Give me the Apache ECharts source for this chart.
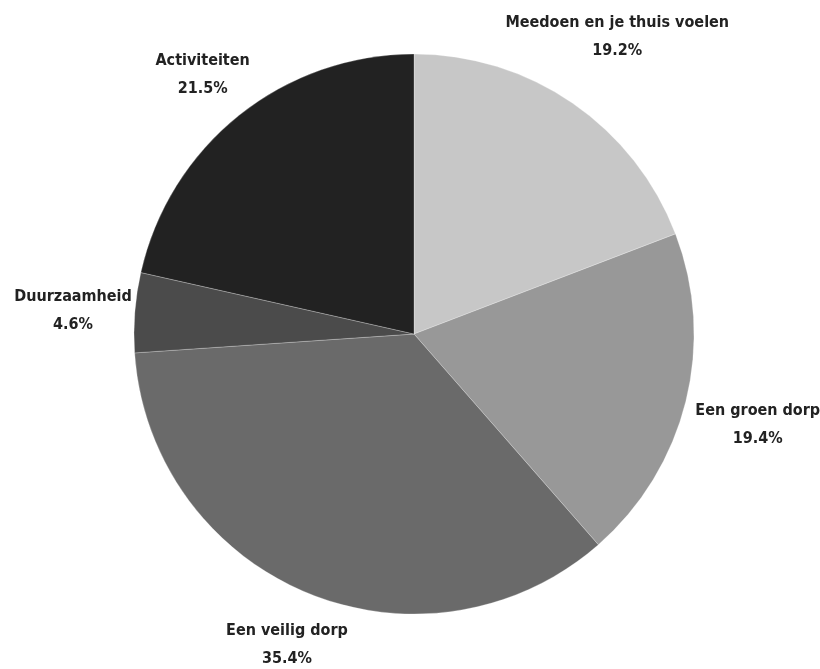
<!DOCTYPE html>
<html><head><meta charset="utf-8">
<script src="https://cdn.jsdelivr.net/npm/echarts@6/dist/echarts.min.js"></script>
<style>html,body{margin:0;padding:0;background:#fff}#c{width:820px;height:669px}</style>
</head><body><div id="c"></div>
<script>
const categories = ['Meedoen en je thuis voelen', 'Een groen dorp', 'Een veilig dorp', 'Duurzaamheid', 'Activiteiten'];
const values = [19.2, 19.4, 35.4, 4.6, 21.5];
const colors = ['#c7c7c7', '#989898', '#6a6a6a', '#4b4b4b', '#222222'];

const chart = echarts.init(document.getElementById('c'));
const data = categories.map((n, i) => ({ name: n, value: values[i], itemStyle: { color: colors[i] } }));
const labelData = categories.map((n, i) => ({ name: n, value: values[i] }));
// small vertical nudges of the label text (style only)
const labelNudgeY = [-10, 7, -11, 4, 13];
const font = '"DejaVu Sans Condensed", "DejaVu Sans", sans-serif';
chart.setOption({
  animation: false,
  series: [
    {
      type: 'pie', center: [414, 334], radius: [0, 280], startAngle: 90, clockwise: true,
      label: { show: false }, labelLine: { show: false }, silent: true,
      itemStyle: { borderColor: 'rgba(255,255,255,0.25)', borderWidth: 1 },
      data: data
    },
    {
      type: 'pie', center: [420, 334], radius: [320, 370], startAngle: 90, clockwise: true,
      silent: true,
      itemStyle: { color: 'rgba(0,0,0,0)' },
      labelLine: { show: false },
      label: {
        show: true, position: 'inside', rotate: 0,
        formatter: p => p.name + '\n' + p.value.toFixed(1) + '%',
        fontFamily: font, fontWeight: 'bold condensed', fontSize: 16, lineHeight: 28,
        color: '#222', align: 'center'
      },
      labelLayout: p => ({ dy: labelNudgeY[p.dataIndex] }),
      data: labelData
    }
  ]
});
</script></body></html>
